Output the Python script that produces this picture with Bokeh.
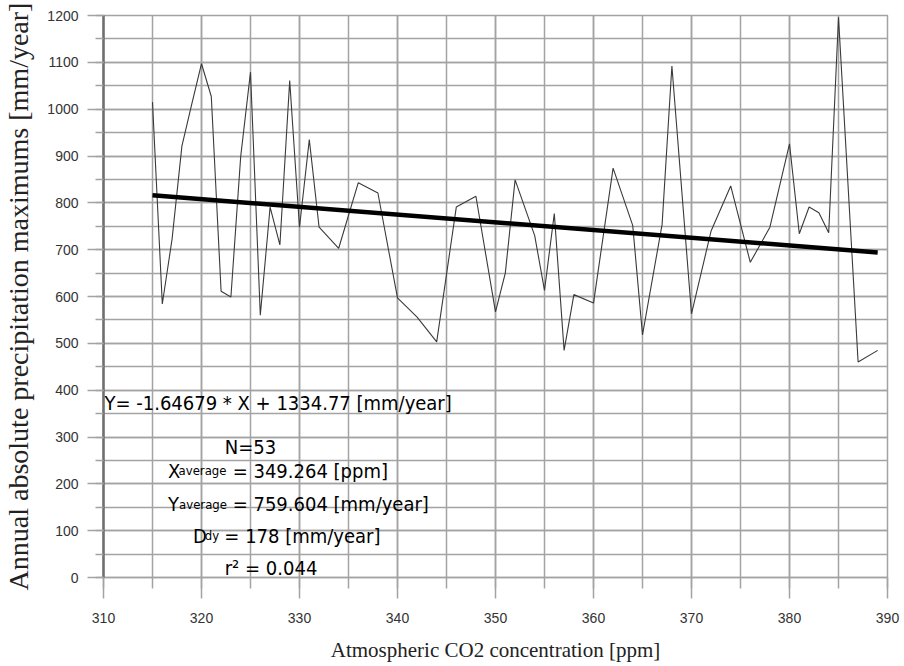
from bokeh.plotting import figure
from bokeh.models import SingleIntervalTicker
from bokeh.core.properties import value
from bokeh.embed import file_html
from bokeh.resources import INLINE

# ---- data ----
co2_ppm = [315, 316, 317, 318, 319, 320, 321, 322, 323, 324, 325, 326, 327, 328, 329, 330,
           331, 332, 334, 336, 338, 340, 342, 344, 346, 348, 350, 351, 352, 354, 355, 356,
           357, 358, 360, 362, 364, 365, 367, 368, 370, 372, 374, 376, 378, 380, 381, 382,
           383, 384, 385, 387, 389]
precip_max = [1015, 584, 723, 921, 1010, 1097, 1027, 611, 599, 899, 1079, 560, 791, 710, 1061, 748,
              935, 748, 703, 843, 821, 597, 556, 503, 791, 814, 567, 650, 849, 730, 613, 777,
              485, 604, 586, 874, 752, 518, 754, 1092, 563, 740, 836, 673, 748, 926, 734, 791,
              779, 736, 1196, 460, 485]

slope = -1.64679
intercept = 1334.77
n_obs = 53
x_average = 349.264
y_average = 759.604
d_dy = 178
r_squared = 0.044

x_label = "Atmospheric CO2 concentration [ppm]"
y_label = "Annual absolute precipitation maximums [mm/year]"

fit_x = [min(co2_ppm), max(co2_ppm)]
fit_y = [slope * v + intercept for v in fit_x]

GRID = "#a3a3a3"
ANN_FONT = value("DejaVu Sans Condensed")

p = figure(width=904, height=666, x_range=(310, 390), y_range=(0, 1200),
           output_backend="svg", toolbar_location=None,
           min_border_left=98, min_border_right=17, min_border_top=15, min_border_bottom=89,
           background_fill_color="white", border_fill_color="white")
p.outline_line_color = GRID
p.outline_line_width = 1.5

xt = SingleIntervalTicker(interval=10, num_minor_ticks=2)
yt = SingleIntervalTicker(interval=100, num_minor_ticks=2)
p.xaxis.ticker = xt
p.yaxis.ticker = yt
p.xgrid.ticker = xt
p.ygrid.ticker = yt

for g in (p.xgrid, p.ygrid):
    g.grid_line_color = GRID
    g.grid_line_alpha = 1.0
    g.grid_line_width = 1.5
    g.minor_grid_line_color = GRID
    g.minor_grid_line_alpha = 1.0
    g.minor_grid_line_width = 1.5

for ax in (p.xaxis, p.yaxis):
    ax.major_tick_in = 0
    ax.minor_tick_in = 0
    ax.major_tick_line_color = GRID
    ax.minor_tick_line_color = GRID
    ax.major_tick_line_width = 1.5
    ax.minor_tick_line_width = 1.5
    ax.major_label_text_font = "Liberation Sans"
    ax.major_label_text_font_size = "14px"
    ax.major_label_text_color = "#333333"
    ax.axis_label_text_font = "Liberation Serif"
    ax.axis_label_text_font_style = "normal"
    ax.axis_label_text_color = "#222222"

p.xaxis.axis_line_color = GRID
p.xaxis.axis_line_width = 1.5
p.xaxis.major_tick_out = 21
p.xaxis.minor_tick_out = 11
p.xaxis.major_label_standoff = 14
p.xaxis.axis_label = x_label
p.xaxis.axis_label_text_font_size = "21px"
p.xaxis.axis_label_standoff = 12

p.yaxis.axis_line_color = "#6e6e6e"
p.yaxis.axis_line_width = 2.5
p.yaxis.major_tick_out = 16
p.yaxis.minor_tick_out = 8
p.yaxis.major_label_standoff = 9
p.yaxis.axis_label = y_label
p.yaxis.axis_label_text_font_size = "28px"
p.yaxis.axis_label_standoff = 10

# series
p.line(co2_ppm, precip_max, line_color="#3a3a3a", line_width=1.1)
p.line(fit_x, fit_y, line_color="black", line_width=4.5)

# annotation block (positions in data units)
dy = 15.0
main_txt = [
    (f"Y= {slope} * X + {intercept} [mm/year]", 310.1, 356.6 + dy),
    (f"N={n_obs}", 322.37, 262.6 + dy),
    ("X", 316.59, 212.9 + dy),
    (f"= {x_average} [ppm]", 323.18, 212.9 + dy),
    ("Y", 316.59, 141.6 + dy),
    (f"= {y_average} [mm/year]", 323.18, 141.6 + dy),
    ("D", 319.13, 74.0 + dy),
    (f"= {d_dy} [mm/year]", 322.33, 74.0 + dy),
    (f"r\u00b2 = {r_squared}", 322.37, 4.3 + dy),
]
sub_txt = [
    ("average", 317.66, 212.9 + dy),
    ("average", 317.71, 141.6 + dy),
    ("dy", 320.34, 74.0 + dy),
]
p.text(x=[t[1] for t in main_txt], y=[t[2] for t in main_txt], text=[t[0] for t in main_txt],
       text_font=ANN_FONT, text_font_size="20px", text_color="black",
       text_align="left", text_baseline="alphabetic")
p.text(x=[t[1] for t in sub_txt], y=[t[2] for t in sub_txt], text=[t[0] for t in sub_txt],
       text_font=ANN_FONT, text_font_size="13px", text_color="black",
       text_align="left", text_baseline="alphabetic")

open("out.html", "w").write(file_html(p, INLINE))
